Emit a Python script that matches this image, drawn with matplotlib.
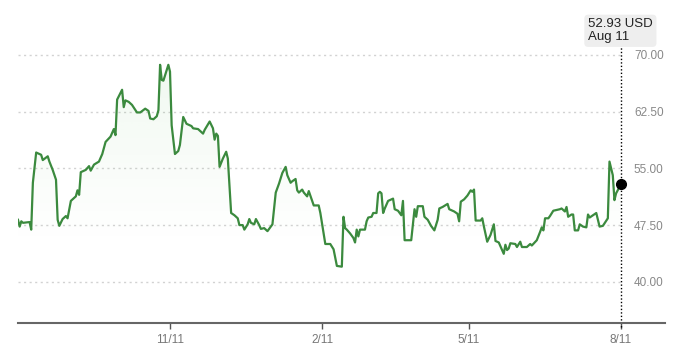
import matplotlib
matplotlib.use("Agg")
import matplotlib.pyplot as plt
import numpy as np
import pandas as pd

plt.rcParams["font.family"] = ["Liberation Sans", "DejaVu Sans"]

# price series (day offset from 2022-08-11, price in USD)
start = pd.Timestamp("2022-08-11")
day_offsets = [
    0, 1, 2, 3, 7, 8, 9, 11, 14, 15, 18, 19, 21, 23, 24, 25, 27, 29, 30, 32,
    35, 36, 37, 38, 41, 43, 44, 46, 49, 51, 53, 56, 58, 59, 60, 63, 64, 65, 67, 69,
    72, 74, 77, 79, 80, 82, 84, 85, 86, 87, 88, 91, 92, 93, 95, 97, 98, 100, 102, 105,
    106, 109, 112, 113, 116, 118, 119, 120, 121, 122, 124, 126, 127, 129, 131, 133, 134, 136, 137, 139,
    140, 141, 143, 144, 146, 147, 149, 151, 153, 154, 156, 158, 160, 162, 163, 165, 166, 168, 169, 170,
    172, 173, 175, 176, 179, 182, 183, 186, 189, 191, 193, 196, 197, 198, 199, 201, 203, 204, 205, 206,
    207, 210, 211, 212, 214, 215, 217, 218, 219, 220, 221, 222, 224, 227, 228, 230, 232, 233, 234, 238,
    240, 241, 242, 245, 246, 248, 250, 252, 254, 255, 257, 260, 261, 264, 266, 267, 268, 270, 272, 274,
    275, 276, 277, 280, 281, 282, 284, 286, 288, 289, 291, 294, 295, 296, 297, 298, 301, 302, 304, 305,
    308, 310, 311, 314, 316, 317, 318, 319, 321, 322, 324, 326, 328, 329, 331, 332, 333, 335, 336, 337,
    339, 340, 342, 344, 345, 346, 348, 350, 352, 354, 357, 358, 360, 361, 362, 365,
]
prices = [
    48.2, 47.3, 48.0, 47.8, 47.9, 46.9, 53.1, 57.1, 56.8, 56.1, 56.6, 55.9, 54.8, 53.5, 48.2, 47.4, 48.3, 48.7, 48.4, 50.7,
    51.3, 52.1, 51.5, 54.5, 54.8, 55.3, 54.7, 55.5, 55.9, 56.9, 58.5, 59.2, 60.2, 59.4, 64.1, 65.4, 63.1, 64.0, 63.8, 63.4,
    62.4, 62.4, 62.9, 62.6, 61.6, 61.5, 61.9, 62.7, 68.7, 66.7, 66.6, 68.7, 67.8, 60.7, 56.9, 57.3, 58.1, 61.8, 60.9, 60.6,
    60.3, 60.2, 59.6, 60.1, 61.2, 60.3, 58.8, 59.6, 59.3, 55.2, 56.3, 57.2, 56.3, 49.1, 48.8, 48.4, 47.5, 47.5, 46.9, 47.6,
    48.3, 47.8, 47.6, 48.3, 47.5, 47.0, 47.1, 46.7, 47.3, 47.6, 51.8, 53.0, 54.4, 55.2, 54.1, 53.1, 53.3, 53.6, 52.1, 51.8,
    52.2, 51.8, 51.3, 52.0, 50.1, 50.1, 49.1, 45.0, 45.0, 44.3, 42.1, 42.0, 48.6, 47.1, 46.9, 46.4, 45.8, 45.2, 46.9, 46.0,
    46.9, 46.9, 48.0, 48.5, 48.6, 49.1, 49.1, 51.7, 51.9, 51.7, 49.1, 49.7, 50.7, 51.0, 49.6, 49.4, 48.8, 50.7, 45.5, 45.5,
    49.6, 48.6, 50.0, 50.0, 48.6, 48.2, 47.4, 46.8, 48.2, 49.7, 49.9, 50.3, 49.6, 49.3, 49.0, 48.0, 50.6, 50.9, 51.4, 52.1,
    51.9, 52.2, 48.1, 48.1, 48.4, 47.3, 45.3, 46.2, 47.6, 45.4, 45.2, 43.7, 44.9, 44.2, 44.4, 45.1, 45.0, 44.6, 45.3, 44.6,
    44.6, 45.0, 44.8, 45.5, 46.6, 47.2, 46.8, 48.4, 48.4, 48.7, 49.4, 49.5, 49.6, 49.7, 49.3, 49.9, 48.6, 48.9, 48.9, 46.8,
    46.8, 47.6, 47.3, 47.2, 48.9, 48.5, 48.8, 49.1, 47.3, 47.4, 48.4, 55.9, 54.1, 50.8, 51.7, 52.93,
]
y_ticks = [40.0, 47.5, 55.0, 62.5, 70.0]
x_tick_dates = ["2022-11-11", "2023-02-11", "2023-05-11", "2023-08-11"]
x_tick_labels = ["11/11", "2/11", "5/11", "8/11"]
last_label = "52.93 USD\nAug 11"

dates = start + pd.to_timedelta(day_offsets, unit="D")
x = matplotlib.dates.date2num(dates)
y = np.array(prices)

green = "#3b8a3e"
fig = plt.figure(figsize=(6.8, 3.48), dpi=100)
ax = fig.add_axes([18 / 680, 25 / 348, 647 / 680, 313 / 348])
ax.set_ylim(34.55, 75.95)
ax.set_xlim(x[0], x[0] + 391.6)

# grid lines, only up to the last point
ax.hlines(y_ticks, x[0], x[-1], colors="#d2d2d2", linewidth=1,
          linestyles=(0, (1.5, 2.5)), zorder=1)

# soft gradient under the line
poly = ax.fill_between(x, y, 34.55, color="none", lw=0)
grad = np.linspace(0, 1, 256).reshape(-1, 1)
rgba = np.zeros((256, 1, 4))
rgba[..., :3] = matplotlib.colors.to_rgb("#5cb85c")
rgba[..., 3] = np.clip(grad - (45.0 - 34.55) / (70 - 34.55), 0, None) * 0.13
img = ax.imshow(rgba, extent=[x[0], x[-1], 34.55, 70], origin="lower",
                aspect="auto", zorder=1.5)
img.set_clip_path(poly.get_paths()[0], transform=ax.transData)

ax.plot(x, y, color=green, linewidth=1.6, zorder=3)

# marker and dotted guide at the last value
ax.plot([x[-1], x[-1]], [34.0, 71.5], color="black", linewidth=1,
        linestyle=(0, (1, 1.5)), clip_on=False, zorder=2)
ax.plot(x[-1], y[-1], "o", color="black", markersize=7, zorder=4)
ax.text(x[-1] - 20, 73.2, last_label, fontsize=9.5, color="#222222",
        va="center", ha="left", linespacing=1.1,
        bbox=dict(boxstyle="round,pad=0.28,rounding_size=0.3",
                  fc="#eeeeee", ec="none"), zorder=5)

for s in ["top", "left", "right"]:
    ax.spines[s].set_visible(False)
ax.spines["bottom"].set_color("#666666")
ax.spines["bottom"].set_linewidth(1.5)

ax.set_xticks(matplotlib.dates.date2num(pd.to_datetime(x_tick_dates)))
ax.set_xticklabels(x_tick_labels)
ax.tick_params(axis="x", length=4, width=1, color="#555555",
               labelsize=8.5, labelcolor="#777777", pad=4)

ax.yaxis.set_ticks_position("right")
ax.set_yticks(y_ticks)
ax.set_yticklabels([f"{v:.2f}" for v in y_ticks])
ax.tick_params(axis="y", length=0, labelsize=8.5, labelcolor="#888888", pad=-1)
for lbl in ax.get_yticklabels():
    lbl.set_horizontalalignment("right")

ax.patch.set_visible(False)
fig.savefig("out.png", dpi=100)
